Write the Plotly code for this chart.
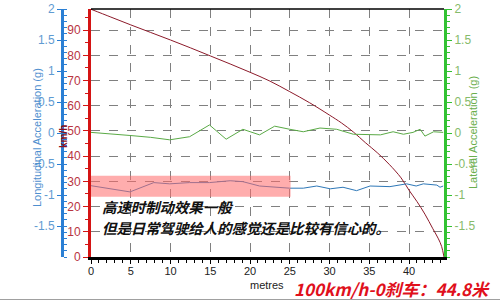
import plotly.graph_objects as go

W, H = 500, 301

# ---- data ----
speed_dist = [0, 2.5, 5, 7.5, 10, 12.5, 15, 17.5, 20, 22.5, 25, 27.5, 30, 31.5, 33, 34.5,
              36, 37.5, 39, 40, 41, 42, 43, 43.7, 44.1, 44.4]
speed_kmh = [98.3, 95.2, 92.1, 89.1, 86.1, 83.0, 79.8, 76.6, 73.3, 69.8, 65.6, 61.2, 56.3,
             53.2, 49.6, 45.4, 41.4, 36.8, 31.4, 26.5, 22.0, 17.0, 11.2, 7.2, 4.2, 0]

lat_dist = [0, 2.5, 4.9, 7.5, 9.9, 12.4, 14.9, 17.0, 19.1, 21.2, 23.1, 25.0, 26.7, 28.8,
            30.9, 33.0, 34.5, 36.4, 38.0, 39.3, 40.5, 41.4, 42.0, 43.1, 44.3]
lat_g = [0.01, -0.01, -0.04, -0.07, -0.11, -0.06, 0.13, -0.10, 0.06, -0.03, 0.11, 0.06,
         0.02, 0.08, 0.06, -0.02, -0.02, -0.03, 0.02, -0.02, 0.01, 0.06, -0.05, 0.02, 0.01]

lon_dist = [0, 4.9, 7.9, 9.9, 12.4, 14.9, 17.5, 19.1, 21.2, 25.0, 26.7, 28.4, 30.1, 31.7,
            33.4, 35.1, 37.6, 39.7, 40.9, 41.8, 43.5, 43.9, 44.3]
lon_g = [-0.85, -0.95, -0.80, -0.82, -0.80, -0.80, -0.77, -0.785, -0.855, -0.89, -0.89,
         -0.855, -0.90, -0.875, -0.93, -0.855, -0.865, -0.82, -0.855, -0.82, -0.84, -0.875, -0.855]

x_ticks = [0, 5, 10, 15, 20, 25, 30, 35, 40]
kmh_ticks = [0, 10, 20, 30, 40, 50, 60, 70, 80, 90]
g_ticks = [-1.5, -1, -0.5, 0, 0.5, 1, 1.5, 2]
g_labels = ["-1.5", "-1", "-0.5", "0", "0.5", "1", "1.5", "2"]

highlight_dist = [0, 25.1]
highlight_g = [-1.03, -0.69]

line1 = "高速时制动效果一般"
line2 = "但是日常驾驶给人的感觉还是比较有信心的。"
result_text = "100km/h-0刹车：44.8米"

# ---- geometry ----
px_l, px_r, px_t, px_b = 91, 444, 9, 257
xdom = [px_l / W, px_r / W]
ydom = [1 - px_b / H, 1 - px_t / H]

FONT = "Liberation Sans, Arial, sans-serif"
CJK = "Noto Sans CJK SC, sans-serif"
RED_AX = "#d41414"
BLUE_AX = "#2a7fd4"
GREEN_AX = "#33c233"

fig = go.Figure()
fig.add_trace(go.Scatter(x=lat_dist, y=lat_g, mode="lines", yaxis="y3",
                         line=dict(color="#5aaa46", width=1), hoverinfo="skip"))
fig.add_trace(go.Scatter(x=lon_dist, y=lon_g, mode="lines", yaxis="y2",
                         line=dict(color="#2e78b8", width=1), hoverinfo="skip"))
fig.add_trace(go.Scatter(x=speed_dist, y=speed_kmh, mode="lines", yaxis="y",
                         line=dict(color="#8c1a2a", width=1, shape="spline"), hoverinfo="skip"))

fig.update_layout(
    template="none",
    width=W, height=H,
    margin=dict(l=0, r=0, t=0, b=0),
    paper_bgcolor="white", plot_bgcolor="white",
    showlegend=False,
    xaxis=dict(domain=xdom, range=[0, 44.4], tickvals=x_ticks, showgrid=True,
               gridcolor="#808080", griddash="dash", gridwidth=1, zeroline=False,
               showline=True, linecolor="black", linewidth=3,
               ticks="outside", ticklen=4, tickcolor="black", ticklabelstandoff=-2,
               minor=dict(dtick=1, tick0=0, ticks="outside", ticklen=3, tickcolor="black", showgrid=False),
               tickfont=dict(family=FONT, size=11, color="#222"), automargin=False),
    yaxis=dict(domain=ydom, range=[0, 98.4], tickvals=kmh_ticks, showgrid=True,
               gridcolor="#808080", griddash="dash", gridwidth=1, zeroline=False,
               showline=True, linecolor=RED_AX, linewidth=3, side="left", anchor="x",
               ticks="outside", ticklen=5, tickcolor=RED_AX,
               minor=dict(dtick=5, tick0=0, ticks="outside", ticklen=3, tickcolor=RED_AX, showgrid=False),
               tickfont=dict(family=FONT, size=12, color="#b8353f"), automargin=False),
    yaxis2=dict(range=[-2, 2], overlaying="y", anchor="free", position=62 / W, side="left",
                tickvals=g_ticks, ticktext=g_labels, showgrid=False, zeroline=False,
                showline=True, linecolor=BLUE_AX, linewidth=3,
                ticks="outside", ticklen=4, tickcolor=BLUE_AX,
                minor=dict(dtick=0.1, tick0=0, ticks="inside", ticklen=3, tickcolor=BLUE_AX),
                tickfont=dict(family=FONT, size=12, color="#5f9bd2"), automargin=False),
    yaxis3=dict(range=[-2, 2], overlaying="y", anchor="x", side="right",
                tickvals=g_ticks, ticktext=g_labels, showgrid=False, zeroline=False,
                showline=True, linecolor=GREEN_AX, linewidth=3,
                ticks="outside", ticklen=5, tickcolor=GREEN_AX,
                minor=dict(dtick=0.1, tick0=0, ticks="outside", ticklen=3, tickcolor=GREEN_AX),
                tickfont=dict(family=FONT, size=12, color="#86bb6a"), automargin=False),
)

# highlight box over the longitudinal trace
fig.add_shape(type="rect", xref="x", yref="y2",
              x0=highlight_dist[0], x1=highlight_dist[1], y0=highlight_g[0], y1=highlight_g[1],
              fillcolor="rgba(255,105,105,0.55)", line=dict(width=0), layer="above")
# top frame line
fig.add_shape(type="line", xref="paper", yref="paper", x0=xdom[0], x1=xdom[1],
              y0=ydom[1], y1=ydom[1], line=dict(color="black", width=1.5))
# bottom border of image
fig.add_shape(type="line", xref="paper", yref="paper", x0=0, x1=1,
              y0=1 - 299.5 / H, y1=1 - 299.5 / H, line=dict(color="#a0a0a0", width=1))


def P(px, py):
    return px / W, 1 - py / H


ann = []
x, y = P(37, 138)
ann.append(dict(x=x, y=y, text="Longitudinal Acceleration (g)", textangle=-90,
                font=dict(family=FONT, size=11, color="#4f8fcf")))
x, y = P(63, 137)
ann.append(dict(x=x, y=y, text="<b>km/h</b>", textangle=-90,
                font=dict(family=FONT, size=10, color="#8b1020")))
x, y = P(473, 133)
ann.append(dict(x=x, y=y, text="Lateral Acceleration (g)", textangle=-90,
                font=dict(family=FONT, size=11, color="#6aae4c")))
x, y = P(267, 285)
ann.append(dict(x=x, y=y, text="metres",
                font=dict(family=FONT, size=11, color="#222")))
x, y = P(392, 288)
ann.append(dict(x=x, y=y, text="<b><i>" + result_text + "</i></b>",
                font=dict(family=CJK, size=17, color="#e0101c")))
x, y = P(100, 206)
ann.append(dict(x=x, y=y, text="<b><i>" + line1 + "</i></b>", xanchor="left",
                font=dict(family=CJK, size=14.4, color="#111")))
x, y = P(100, 227)
ann.append(dict(x=x, y=y, text="<b><i>" + line2 + "</i></b>", xanchor="left",
                font=dict(family=CJK, size=14.4, color="#111")))
for a in ann:
    a.setdefault("xanchor", "center")
    a.update(xref="paper", yref="paper", showarrow=False, yanchor="middle")
fig.update_layout(annotations=ann)

fig.write_html("out.html")
